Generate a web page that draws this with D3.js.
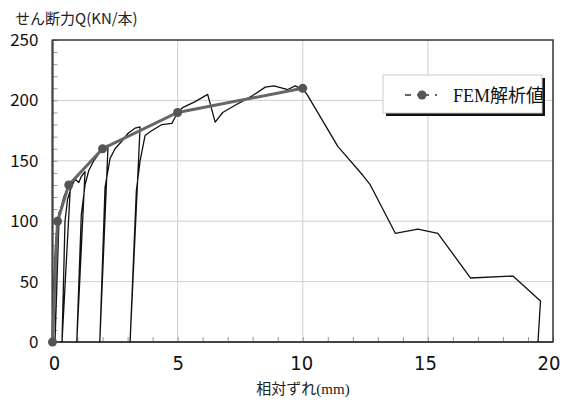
<!DOCTYPE html>
<html>
  <head>
    <meta charset="utf-8">
    <title>せん断力と相対ずれ</title>
    <script src="https://d3js.org/d3.v7.min.js"></script>
    <style>
      body { margin: 0; background: #fff; }
      .sans { font-family: "Noto Sans CJK JP", "Open Sans", sans-serif; }
      .narrow { font-family: "Liberation Sans Narrow", "DejaVu Sans Condensed", sans-serif; }
      .serif { font-family: "Liberation Serif", "Noto Sans CJK JP", serif; }
    </style>
  </head>
  <body>
    <svg width="563" height="403"></svg>

    <script>
      // ---- data ----
      const xTicks = [0, 5, 10, 15, 20];
      const yTicks = [0, 50, 100, 150, 200, 250];

      // FEM analysis (gray line with markers)
      const femSlip = [0, 0.2, 0.65, 2.0, 5.0, 10.0];
      const femShear = [0, 100, 130, 160, 190, 210];

      // experiment (thin black line, cyclic loading)
      const expSlip = [
        0, 0.05, 0.12, 0.2, 0.27,
        0.1,
        0.2, 0.3, 0.45, 0.6, 0.72,
        0.38,
        0.5, 0.6, 0.75, 0.9, 1.05, 1.15, 1.3,
        0.97,
        1.15, 1.3, 1.45, 1.65, 1.85, 2.05, 2.22,
        1.89,
        2.1, 2.3, 2.5, 2.8, 3.03, 3.3, 3.5,
        3.1,
        3.35, 3.5, 3.7, 3.9, 4.37, 4.77, 4.9, 4.97,
        5.2, 5.7, 6.2, 6.5, 6.8, 7.3, 8.0, 8.5, 8.85, 9.4, 9.7, 9.9, 10.0,
        10.2, 11.4, 12.4, 12.7, 13.7, 14.6, 15.4, 16.7, 18.4, 19.5, 19.4
      ];
      const expShear = [
        0, 45, 80, 100, 108,
        0,
        85, 108, 120, 127, 131,
        0,
        100, 118, 128, 135, 132, 137, 141,
        0,
        105, 130, 142, 150, 156, 160, 163,
        0,
        128, 152, 160, 167, 173, 177, 178,
        0,
        125, 150, 171, 174, 180, 181, 186, 190,
        194, 199, 205, 182, 190, 196, 204, 211, 212, 209, 212, 210, 210,
        204, 162, 138, 130, 90, 93.5, 90, 53, 54.6, 34, 0
      ];

      const femPts = femSlip.map((d, i) => [d, femShear[i]]);
      const expPts = expSlip.map((d, i) => [d, expShear[i]]);

      // ---- layout ----
      const svg = d3.select("svg");
      const pl = 52.5, pr = 553, pt = 40, pb = 342;

      const x = d3.scaleLinear().domain([0, 20]).range([pl, pr]);
      const y = d3.scaleLinear().domain([0, 250]).range([pb, pt]);

      // grid
      svg.append("g")
        .selectAll("line")
        .data(xTicks.filter(d => d > 0 && d < 20))
        .join("line")
        .attr("x1", d => x(d)).attr("x2", d => x(d))
        .attr("y1", pt).attr("y2", pb)
        .attr("stroke", "#cfcfcf");

      svg.append("g")
        .selectAll("line")
        .data(yTicks.filter(d => d > 0 && d < 250))
        .join("line")
        .attr("x1", pl).attr("x2", pr)
        .attr("y1", d => y(d)).attr("y2", d => y(d))
        .attr("stroke", "#cfcfcf");

      // minor ticks pointing inward
      svg.append("g")
        .attr("transform", `translate(0,${pb})`)
        .call(d3.axisTop(x).ticks(20).tickSize(5).tickFormat(""))
        .call(g => g.select(".domain").remove())
        .selectAll("line").attr("stroke", "#999");

      svg.append("g")
        .attr("transform", `translate(${pl},0)`)
        .call(d3.axisRight(y).ticks(25).tickSize(5).tickFormat(""))
        .call(g => g.select(".domain").remove())
        .selectAll("line").attr("stroke", "#999");

      // frame
      svg.append("rect")
        .attr("x", pl).attr("y", pt)
        .attr("width", pr - pl).attr("height", pb - pt)
        .attr("fill", "none").attr("stroke", "#333").attr("stroke-width", 1.5);
      svg.append("path")
        .attr("d", `M${pl},${pt}V${pb}H${pr}`)
        .attr("fill", "none").attr("stroke", "#444").attr("stroke-width", 2);

      // tick labels
      svg.append("g")
        .attr("transform", `translate(0,${pb + 14})`)
        .call(d3.axisBottom(x).tickValues(xTicks).tickSize(0).tickPadding(0))
        .call(g => g.select(".domain").remove())
        .selectAll("text")
        .attr("class", "narrow")
        .attr("font-size", 20)
        .attr("fill", "#111")
        .attr("dx", d => 1.5 - d * 0.3);

      svg.append("g")
        .attr("transform", `translate(${pl - 14},0)`)
        .call(d3.axisLeft(y).tickValues(yTicks).tickSize(0).tickPadding(0))
        .call(g => g.select(".domain").remove())
        .selectAll("text")
        .attr("class", "sans")
        .attr("font-size", 17)
        .attr("fill", "#111");

      svg.selectAll("g").attr("font-family", null);

      // axis titles
      svg.append("text")
        .attr("class", "sans")
        .attr("x", 15).attr("y", 24)
        .attr("font-size", 15)
        .attr("fill", "#222")
        .text("せん断力Q(KN/本)");

      svg.append("text")
        .attr("class", "serif")
        .attr("x", 303).attr("y", 394)
        .attr("text-anchor", "middle")
        .attr("font-size", 15)
        .attr("fill", "#222")
        .text("相対ずれ(mm)");

      // series
      const line = d3.line().x(d => x(d[0])).y(d => y(d[1]));

      svg.append("path")
        .datum(expPts)
        .attr("d", line)
        .attr("fill", "none")
        .attr("stroke", "#111")
        .attr("stroke-width", 1.3)
        .attr("stroke-linejoin", "round");

      svg.append("path")
        .datum(femPts)
        .attr("d", line)
        .attr("fill", "none")
        .attr("stroke", "#666")
        .attr("stroke-width", 3);

      svg.append("g")
        .selectAll("circle")
        .data(femPts)
        .join("circle")
        .attr("cx", d => x(d[0]))
        .attr("cy", d => y(d[1]))
        .attr("r", 4.5)
        .attr("fill", "#555");

      // legend
      const lg = svg.append("g").attr("transform", "translate(383,75)");
      lg.append("rect")
        .attr("x", 3).attr("y", 3)
        .attr("width", 159).attr("height", 38)
        .attr("fill", "#111");
      lg.append("rect")
        .attr("width", 159).attr("height", 38)
        .attr("fill", "#fff").attr("stroke", "#ccc");
      lg.append("line")
        .attr("x1", 22).attr("x2", 54)
        .attr("y1", 20).attr("y2", 20)
        .attr("stroke", "#666").attr("stroke-width", 2)
        .attr("stroke-dasharray", "6,6,2,4");
      lg.append("circle")
        .attr("cx", 39).attr("cy", 20).attr("r", 4.5)
        .attr("fill", "#555");
      lg.append("text")
        .attr("class", "serif")
        .attr("x", 70).attr("y", 27)
        .attr("font-size", 18)
        .attr("fill", "#111")
        .text("FEM解析値");
    </script>
  </body>
</html>
